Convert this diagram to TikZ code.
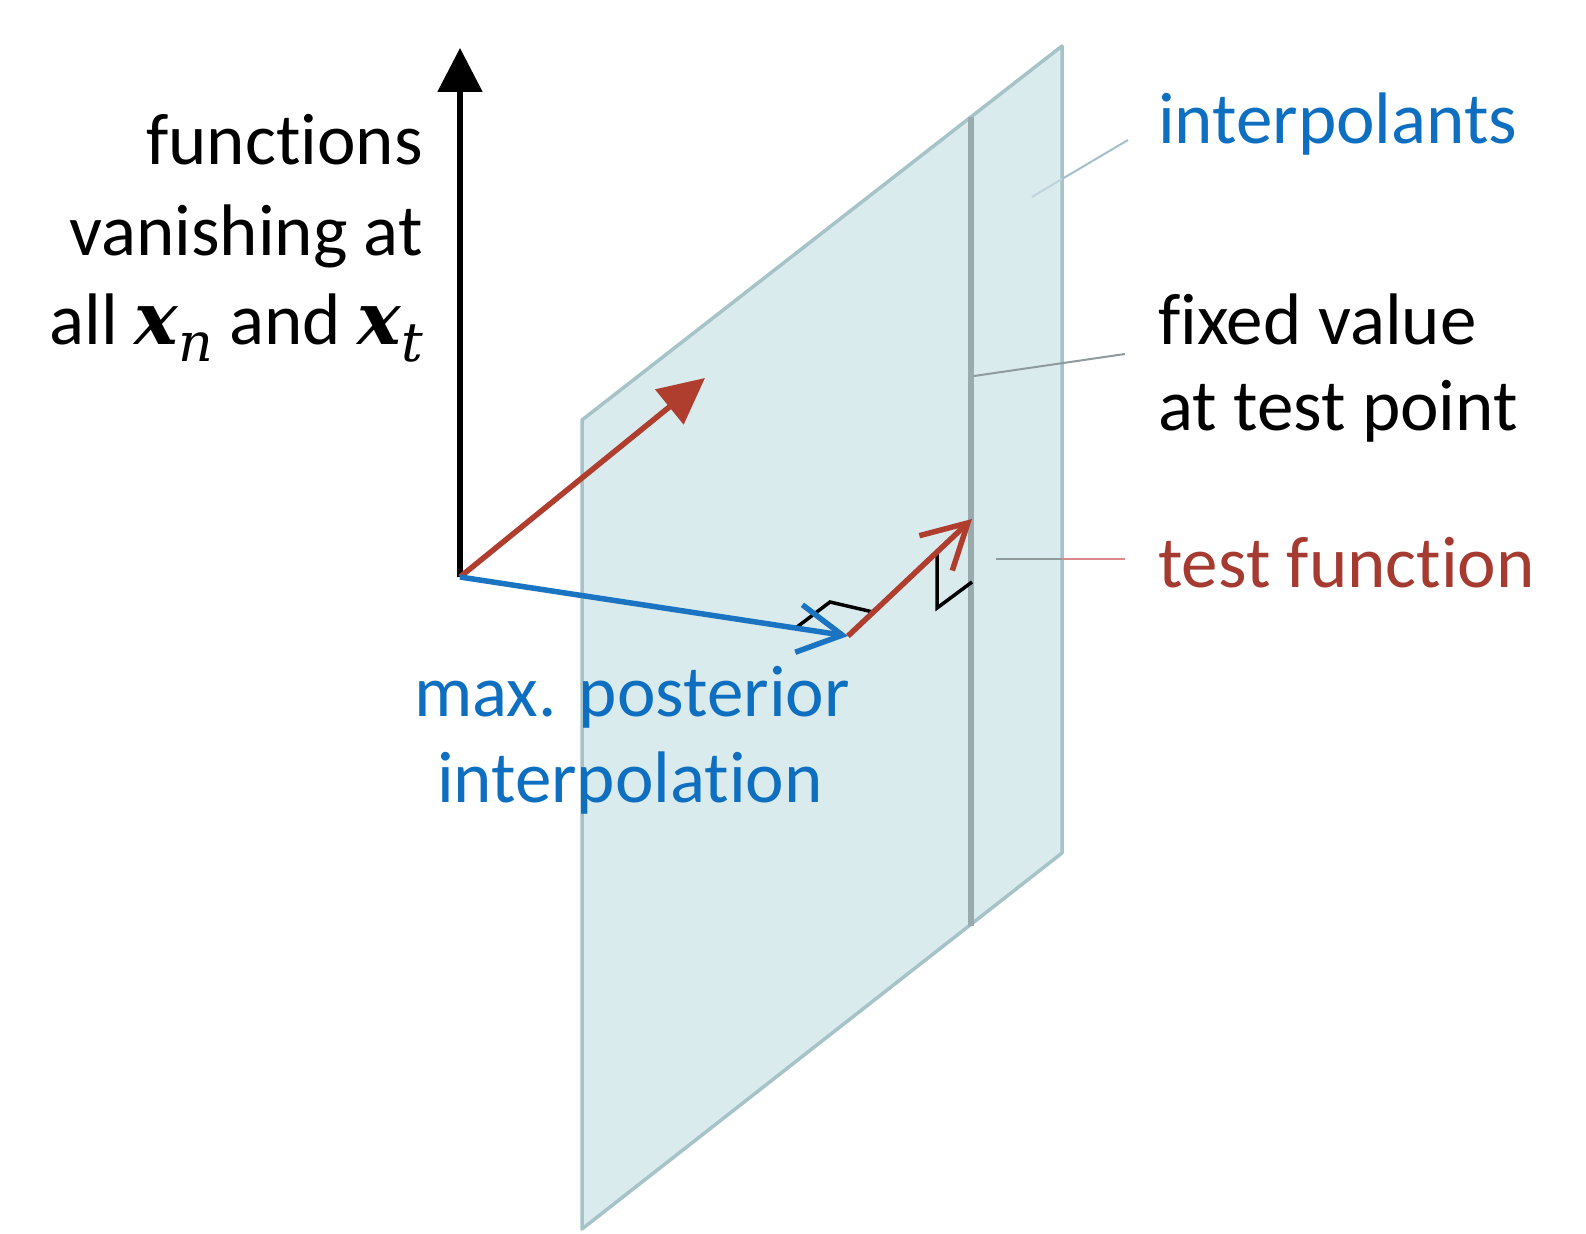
\documentclass[tikz,border=0pt]{standalone}
\usepackage{fontspec}
\setmainfont{Carlito}[Ligatures={NoCommon}]
\newfontfamily\mathish{DejaVu Serif}
\newcommand{\vecx}[1]{{\mathish\bfseries\itshape x}\raisebox{-0.24em}{\mathish\itshape\fontsize{54}{54}\selectfont #1}}
\usetikzlibrary{arrows.meta}
\definecolor{tblue}{HTML}{0E6EBF}
\definecolor{tred}{HTML}{A53A30}
\definecolor{ablue}{HTML}{1A74C2}
\definecolor{ared}{HTML}{B03E2E}
\definecolor{pfill}{HTML}{DAEBEE}
\definecolor{pedge}{HTML}{A6C3C8}
\definecolor{pinner}{HTML}{9AABAE}
\definecolor{leadblue}{HTML}{A3C0CC}
\definecolor{leadgray}{HTML}{8E9A9C}
\definecolor{leadpink}{HTML}{D98A8A}
\tikzset{
  lbl/.style={inner sep=0pt, font=\fontsize{73}{89}\selectfont},
  leader/.style={line width=2pt},
  vec/.style={line width=5.5pt},
  rmark/.style={line width=3.5pt, black},
  barb/.style={-{Straight Barb[length=44pt,width=48pt]}},
}
\begin{document}
\begin{tikzpicture}[x=1pt,y=-1pt]
\useasboundingbox (0,0) rectangle (1586,1233);
% coordinates
\coordinate (O) at (460,577);
\coordinate (Atop) at (460,48);
\coordinate (R1) at (705,378);
\coordinate (B) at (848,636);
\coordinate (R2) at (972,519);
\coordinate (PTL) at (582,420);
\coordinate (PTR) at (1062,46);
\coordinate (PBR) at (1062,853);
\coordinate (PBL) at (582,1229);
\coordinate (ITop) at (971,117);
\coordinate (IBot) at (971,926);
\coordinate (pInt) at (1032,197);
\coordinate (pIntE) at (1062,179);
\coordinate (lInt) at (1128,140);
\coordinate (pFix) at (974,376);
\coordinate (lFix) at (1125,354);
\coordinate (pTest) at (996,559);
\coordinate (pEdge) at (1062,559);
\coordinate (lTest) at (1125,559);
% labels
\node[lbl, anchor=base east] (f1) at (423,165) {functions};
\node[lbl, anchor=base east] (f2) at (423,255) {vanishing at};
\node[lbl, anchor=base east] (f3) at (423,344) {all \vecx{n} and \vecx{t}};
\node[lbl, anchor=base west, text=tblue] (interp) at (1158,144) {interpolants};
\node[lbl, anchor=base west] (fix1) at (1158,344) {fixed value};
\node[lbl, anchor=base west] (fix2) at (1158,430) {at test point};
\node[lbl, anchor=base west, text=tred] (test) at (1158,587) {test function};
% plane
\filldraw[fill=pfill, draw=pedge, line width=3.5pt, line join=round] (PTL) -- (PTR) -- (PBR) -- (PBL) -- cycle;
\draw[line width=6pt, pinner] (ITop) -- (IBot);
% leader lines
\draw[leader, leadblue] (lInt) -- (pIntE);
\draw[leader, leadblue!70!white] (pIntE) -- (pInt);
\draw[leader, leadgray] (lFix) -- (pFix);
\draw[leader, leadpink] (lTest) -- (pEdge);
\draw[leader, leadgray] (pEdge) -- (pTest);
% labels on plane
\node[lbl, anchor=base, text=tblue] (mp1) at (632,716) {max. posterior};
\node[lbl, anchor=base, text=tblue] (mp2) at (630,802) {interpolation};
% right-angle marks
\draw[rmark] (797,627) -- (830,602) -- (873,612);
\draw[rmark] (937,554) -- (937,608) -- (972,582);
% vectors
\draw[line width=5.5pt, -{Triangle[length=44pt,width=44pt]}] (O) -- (Atop);
\draw[vec, ared, -{Triangle[length=46pt,width=44pt]}] (O) -- (R1);
\draw[vec, ablue, barb] (O) -- (B);
\draw[vec, ared, barb] (B) -- (R2);
\end{tikzpicture}
\end{document}
